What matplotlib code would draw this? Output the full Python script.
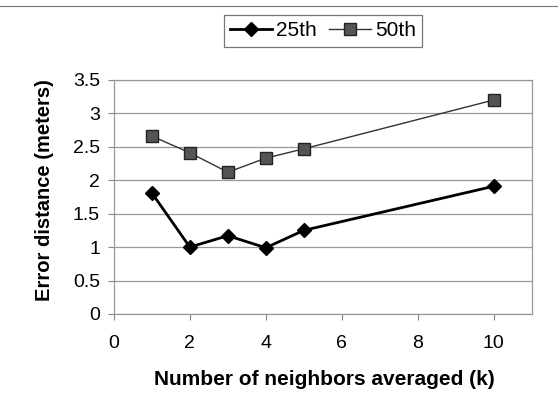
import matplotlib
matplotlib.use('Agg')
import matplotlib.pyplot as plt
from matplotlib.lines import Line2D

k = [1, 2, 3, 4, 5, 10]
p25 = [1.81, 1.00, 1.17, 0.99, 1.25, 1.91]
p50 = [2.66, 2.41, 2.12, 2.33, 2.47, 3.20]

x_ticks = [0, 2, 4, 6, 8, 10]
y_ticks = [0, 0.5, 1, 1.5, 2, 2.5, 3, 3.5]
y_ticklabels = ['0', '0.5', '1', '1.5', '2', '2.5', '3', '3.5']

plt.rcParams['font.family'] = ['Liberation Sans', 'DejaVu Sans']

fig = plt.figure(figsize=(5.58, 4.12), dpi=100)
ax = fig.add_axes([0.204, 0.238, 0.749, 0.568])

ax.plot(k, p25, color='black', lw=2.0, marker='D', markersize=7,
        markerfacecolor='black', markeredgecolor='black', label='25th', zorder=3)
ax.plot(k, p50, color='#333333', lw=1.0, marker='s', markersize=8,
        markerfacecolor='#555555', markeredgecolor='#222222', label='50th', zorder=3)

ax.set_xlim(0, 11)
ax.set_ylim(0, 3.5)
ax.set_xticks(x_ticks)
ax.set_yticks(y_ticks)
ax.set_yticklabels(y_ticklabels)
ax.tick_params(axis='both', labelsize=14, direction='out', length=4, color='#888888', width=0.8)
ax.tick_params(axis='x', pad=11)
ax.tick_params(axis='y', pad=6)
ax.grid(axis='y', color='#999999', lw=0.9)
ax.set_axisbelow(True)
for s in ax.spines.values():
    s.set_color('#999999')
    s.set_linewidth(0.9)

fig.text(0.582, 0.080, 'Number of neighbors averaged (k)', ha='center', va='center',
         fontsize=15, fontweight='bold')
fig.text(0.079, 0.539, 'Error distance (meters)', ha='center', va='center',
         rotation=90, fontsize=14.5, fontweight='bold')

handles = [Line2D([], [], color='black', lw=2.0, marker='D', markersize=7,
                  markerfacecolor='black'),
           Line2D([], [], color='#333333', lw=1.0, marker='s', markersize=8,
                  markerfacecolor='#555555', markeredgecolor='#222222')]
leg = fig.legend(handles, ['25th', '50th'], loc='center', bbox_to_anchor=(0.579, 0.925),
                 ncol=2, fontsize=15, frameon=True, fancybox=False,
                 handlelength=2.0, handletextpad=0.2, columnspacing=0.6,
                 borderpad=0.3, edgecolor='#555555')
leg.get_frame().set_linewidth(0.9)

# outer chart border at the top
fig.add_artist(Line2D([0, 1], [0.985, 0.985], color='#777777', lw=0.8,
                      transform=fig.transFigure))

fig.savefig('out.png', dpi=100)
